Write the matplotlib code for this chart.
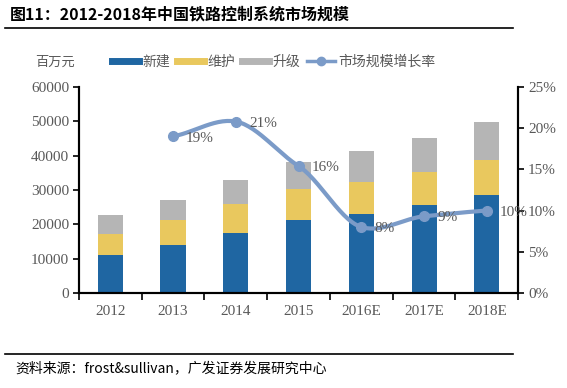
import numpy as np
import matplotlib
matplotlib.use("Agg")
import matplotlib.pyplot as plt
from matplotlib.lines import Line2D

plt.rcParams['font.family'] = ['Liberation Serif', 'Noto Sans CJK SC', 'DejaVu Sans']

#==========================================================
# data
#==========================================================
years = ["2012", "2013", "2014", "2015", "2016E", "2017E", "2018E"]
new_build = [11000, 14000, 17600, 21300, 23000, 25600, 28600]
maintain = [6100, 7100, 8300, 9000, 9400, 9700, 10200]
upgrade = [5600, 6000, 7000, 7800, 8800, 9900, 10900]
growth_years = ["2013", "2014", "2015", "2016E", "2017E", "2018E"]
growth = [19.0, 20.8, 15.4, 8.0, 9.3, 10.0]
growth_labels = ["19%", "21%", "16%", "8%", "9%", "10%"]

c_blue = "#1f66a2"
c_yellow = "#e9c85e"
c_gray = "#b5b5b5"
c_line = "#7b9bc8"
c_tick = "#595959"

def smooth(xs, ys, n=30, tension=0.75):
    # cubic hermite curve through the points (drawing only)
    xs = np.asarray(xs, float)
    ys = np.asarray(ys, float)
    m = np.gradient(ys, xs) * tension
    out_x, out_y = [], []
    for i in range(len(xs) - 1):
        h = xs[i+1] - xs[i]
        t = np.linspace(0, 1, n)
        h00 = 2*t**3 - 3*t**2 + 1
        h10 = t**3 - 2*t**2 + t
        h01 = -2*t**3 + 3*t**2
        h11 = t**3 - t**2
        out_x.extend(xs[i] + t*h)
        out_y.extend(h00*ys[i] + h10*h*m[i] + h01*ys[i+1] + h11*h*m[i+1])
    return np.array(out_x), np.array(out_y)

fig = plt.figure(figsize=(5.67, 3.88), dpi=100)
ax = fig.add_axes([0.139, 0.245, 0.775, 0.531])

x = np.arange(len(years))
w = 0.4
b1 = np.array(new_build)
b2 = b1 + np.array(maintain)
ax.bar(x, new_build, w, color=c_blue, zorder=2)
ax.bar(x, maintain, w, bottom=b1, color=c_yellow, zorder=2)
ax.bar(x, upgrade, w, bottom=b2, color=c_gray, zorder=2)

ax.set_xlim(-0.5, len(years) - 0.5)
ax.set_ylim(0, 60000)
ax.set_yticks(np.arange(0, 60001, 10000))
ax.set_xticks(x)
ax.set_xticklabels(years)
ax.set_xticks(np.arange(-0.5, len(years), 1.0), minor=True)
ax.tick_params(axis='x', which='major', length=0, pad=9, labelsize=11, labelcolor=c_tick)
ax.tick_params(axis='x', which='minor', length=5, width=1.2, direction='out')
ax.tick_params(axis='y', length=4, width=1.2, labelsize=11, labelcolor=c_tick, pad=3)
ax.spines['top'].set_visible(False)
for s in ['left', 'bottom', 'right']:
    ax.spines[s].set_linewidth(1.5)

ax2 = ax.twinx()
ax2.set_ylim(0, 25)
ax2.set_yticks(np.arange(0, 26, 5))
ax2.set_yticklabels(["%d%%" % v for v in range(0, 26, 5)])
ax2.tick_params(axis='y', length=4, width=1.2, labelsize=11, labelcolor=c_tick, pad=3)
ax2.spines['top'].set_visible(False)
for s in ['left', 'bottom', 'right']:
    ax2.spines[s].set_linewidth(1.5)

gx = np.array([years.index(g) for g in growth_years])
sx, sy = smooth(gx, growth)
ax2.plot(sx, sy, color=c_line, lw=3, zorder=3, solid_capstyle='round')
ax2.plot(gx, growth, 'o', color=c_line, ms=7, zorder=4)
for xi, yi, lab in zip(gx, growth, growth_labels):
    ax2.text(xi + 0.21, yi - 0.2, lab, fontsize=11, color=c_tick,
             ha='left', va='center', zorder=5)

# legend
handles = [Line2D([], [], color=c_blue, lw=5),
           Line2D([], [], color=c_yellow, lw=5),
           Line2D([], [], color=c_gray, lw=5),
           Line2D([], [], color=c_line, lw=2.5, marker='o', ms=6)]
fig.legend(handles, ["新建", "维护", "升级", "市场规模增长率"], ncol=4,
           loc='center left', bbox_to_anchor=(0.175, 0.84), frameon=False,
           handlelength=1.95, handletextpad=0.25, columnspacing=0.5,
           prop={'family': ['Noto Sans CJK SC'], 'size': 10}, labelcolor=c_tick)
fig.text(0.062, 0.84, "百万元", fontsize=9.5, color=c_tick, va='center',
         family=['Noto Sans CJK SC'])

# header / footer
fig.text(0.018, 0.962, "图11：2012-2018年中国铁路控制系统市场规模", fontsize=11.5,
         fontweight='heavy', va='center', family=['Noto Sans CJK SC'])
fig.add_artist(Line2D([0.009, 0.905], [0.928, 0.928], color='black', lw=1.2))
fig.add_artist(Line2D([0.009, 0.905], [0.087, 0.087], color='black', lw=1.2))
fig.text(0.027, 0.052, "资料来源：frost&sullivan，广发证券发展研究中心", fontsize=10,
         va='center', family=['Noto Sans CJK SC'])

fig.savefig("out.png", dpi=100)
